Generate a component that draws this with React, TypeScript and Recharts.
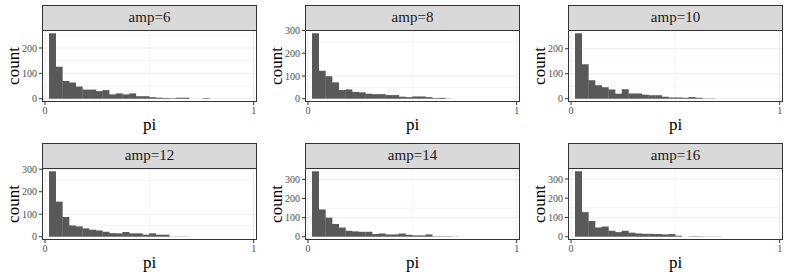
import React from 'react';
import { BarChart, Bar, XAxis, YAxis, CartesianGrid } from 'recharts';

// histogram bin centres (pi), shared by every panel
const binMids = [
  0.035, 0.067, 0.099, 0.131, 0.163, 0.195, 0.227, 0.259, 0.291, 0.323, 0.355, 0.387,
  0.419, 0.451, 0.483, 0.515, 0.547, 0.579, 0.611, 0.643, 0.675, 0.707, 0.739, 0.771,
];

const amp6 = [258, 126, 70, 64, 48, 36, 36, 30, 34, 17, 21, 17, 21, 10, 10, 6, 4, 3, 2, 4, 4, 0, 0, 2];
const amp8 = [288, 123, 99, 72, 38, 41, 30, 28, 22, 20, 20, 16, 16, 9, 7, 10, 10, 7, 3, 4, 1, 0, 0, 0];
const amp10 = [262, 138, 74, 54, 46, 37, 20, 38, 21, 21, 16, 14, 14, 8, 5, 5, 4, 7, 4, 1, 1, 0, 0, 0];
const amp12 = [291, 156, 88, 50, 46, 37, 31, 28, 22, 16, 15, 21, 15, 15, 9, 15, 9, 9, 1, 1, 1, 0, 0, 0];
const amp14 = [343, 143, 100, 67, 48, 31, 28, 26, 26, 14, 17, 12, 12, 17, 10, 7, 7, 12, 2, 2, 2, 1, 0, 0];
const amp16 = [340, 128, 82, 48, 53, 31, 24, 31, 21, 17, 15, 15, 14, 12, 14, 5, 0, 2, 2, 1, 1, 1, 0, 0];

const panelLabels = ['amp=6', 'amp=8', 'amp=10', 'amp=12', 'amp=14', 'amp=16'];
const panelCounts = [amp6, amp8, amp10, amp12, amp14, amp16];

const xTicks = [0, 1];
const xGridMinor = [0.5];
const yTickCandidates = [0, 100, 200, 300];
const yMinorCandidates = [50, 150, 250, 350];

const X_DOMAIN: [number, number] = [-0.0145, 1.016];

const CELL_W = 263;
const CELL_H = 138;
const PLOT_L = 42;
const PLOT_R = 6;
const PLOT_T = 30;
const PLOT_B = 36;
const PLOT_W = CELL_W - PLOT_L - PLOT_R;
const PLOT_H = CELL_H - PLOT_T - PLOT_B;

const FONT = "'Liberation Serif', 'Times New Roman', serif";
const tickStyle = { fontSize: 10, fill: '#4d4d4d', fontFamily: FONT };

function Panel({ label, counts }: { label: string; counts: number[] }) {
  const data = binMids.map((x, i) => ({ x, count: counts[i] }));
  const max = Math.max(...counts);
  const yDomain: [number, number] = [-0.05 * max, 1.05 * max];
  const yTicks = yTickCandidates.filter((t) => t <= yDomain[1]);
  const yMinor = yMinorCandidates.filter((t) => t <= yDomain[1]);

  return (
    <div style={{ position: 'relative', width: CELL_W, height: CELL_H, fontFamily: FONT }}>
      <BarChart
        width={CELL_W}
        height={CELL_H}
        data={data}
        barCategoryGap={0}
        barGap={0}
        style={{ fontFamily: FONT }}
        margin={{ top: PLOT_T, right: PLOT_R, bottom: 0, left: 0 }}
      >
        <CartesianGrid
          stroke="#ebebeb"
          strokeWidth={0.5}
          horizontalValues={yMinor}
          verticalValues={xGridMinor}
        />
        <CartesianGrid stroke="#ebebeb" strokeWidth={1} horizontalValues={yTicks} verticalValues={xTicks} />
        <XAxis
          type="number"
          dataKey="x"
          domain={X_DOMAIN}
          allowDataOverflow
          ticks={xTicks}
          height={PLOT_B}
          axisLine={false}
          tickSize={3}
          tickMargin={2}
          tickLine={{ stroke: '#333333' }}
          tick={tickStyle}
        />
        <YAxis
          type="number"
          domain={yDomain}
          allowDataOverflow
          ticks={yTicks}
          width={PLOT_L}
          axisLine={false}
          tickSize={3}
          tickMargin={2}
          tickLine={{ stroke: '#333333' }}
          tick={tickStyle}
        />
        <Bar dataKey="count" fill="#595959" isAnimationActive={false} />
      </BarChart>

      {/* panel border */}
      <div
        style={{
          position: 'absolute',
          left: PLOT_L,
          top: PLOT_T,
          width: PLOT_W,
          height: PLOT_H,
          boxSizing: 'border-box',
          border: '1px solid #333333',
          pointerEvents: 'none',
        }}
      />
      {/* facet strip */}
      <div
        style={{
          position: 'absolute',
          left: PLOT_L,
          top: 5,
          width: PLOT_W,
          height: 26,
          boxSizing: 'border-box',
          border: '1px solid #333333',
          background: '#d9d9d9',
          fontFamily: FONT,
          fontSize: 15,
          lineHeight: '23px',
          textAlign: 'center',
          color: '#1a1a1a',
        }}
      >
        {label}
      </div>
      <div
        style={{
          position: 'absolute',
          left: PLOT_L,
          top: 116,
          width: PLOT_W,
          textAlign: 'center',
          fontFamily: FONT,
          fontSize: 17,
          lineHeight: '17px',
          color: '#000',
        }}
      >
        pi
      </div>
      <div
        style={{
          position: 'absolute',
          left: 12.6,
          top: PLOT_T + PLOT_H / 2,
          transform: 'translate(-50%, -50%) rotate(-90deg)',
          fontFamily: FONT,
          fontSize: 17,
          lineHeight: '17px',
          color: '#000',
          whiteSpace: 'nowrap',
        }}
      >
        count
      </div>
    </div>
  );
}

export default function App() {
  return (
    <div
      style={{
        position: 'absolute',
        left: 0,
        top: 0,
        width: CELL_W * 3,
        height: CELL_H * 2,
        background: '#ffffff',
      }}
    >
      {panelLabels.map((label, i) => (
        <div
          key={label}
          style={{ position: 'absolute', left: (i % 3) * CELL_W, top: Math.floor(i / 3) * CELL_H }}
        >
          <Panel label={label} counts={panelCounts[i]} />
        </div>
      ))}
    </div>
  );
}
